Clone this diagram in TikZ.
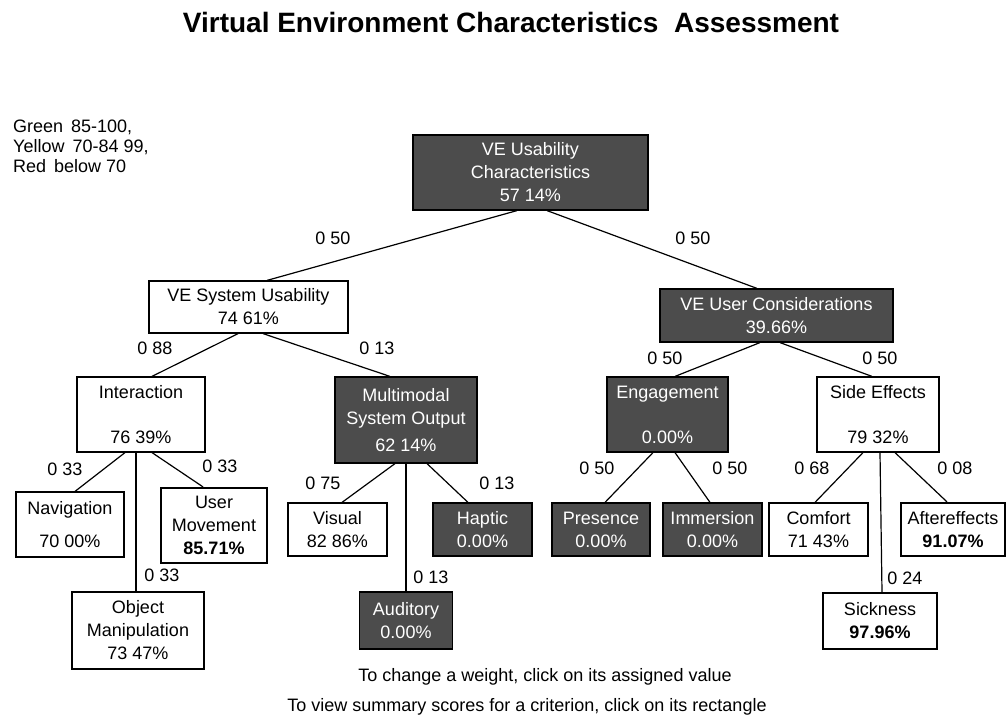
\documentclass[tikz,border=0pt]{standalone}
\usepackage{fontspec}
\setmainfont{Liberation Sans}
\begin{document}
\begin{tikzpicture}[x=1pt,y=-1pt,font=\fontsize{18}{23}\selectfont,
  crit/.style={draw,line width=1.2pt,align=center,inner sep=0pt},
  yelbox/.style={crit,fill=white},
  redbox/.style={crit,fill=black!70,text=white},
  grnbox/.style={crit,fill=white,line width=2.2pt},
  wt/.style={inner sep=1pt}]
 \useasboundingbox (0,0) rectangle (1007,719);
 \node[font=\fontsize{28}{32}\selectfont\bfseries,anchor=base] (title) at (511,33) {Virtual Environment Characteristics\ \ Assessment};
 \node[anchor=north west,align=left,inner sep=0pt,font=\fontsize{18}{20}\selectfont] (key) at (13,120) {Green\ \,85-100,\\Yellow\ \,70-84 99,\\Red\ \,below 70};
 % criteria tree
 \node[redbox,minimum width=235pt,minimum height=75pt] (root) at (530.5,172.5) {VE Usability\\Characteristics\\57 14\%};
 \node[yelbox,minimum width=199pt,minimum height=52pt] (sys) at (248.5,307) {VE System Usability\\74 61\%};
 \node[redbox,minimum width=233pt,minimum height=53pt] (user) at (776.5,315.5) {VE User Considerations\\39.66\%};
 \node[yelbox,minimum width=128pt,minimum height=75pt] (inter) at (141,414.5) {Interaction\\[22pt]76 39\%};
 \node[redbox,minimum width=142pt,minimum height=86pt] (multi) at (406,420) {Multimodal\\System Output\\[4pt]62 14\%};
 \node[redbox,minimum width=121pt,minimum height=75pt] (engage) at (667.5,414.5) {Engagement\\[22pt]0.00\%};
 \node[yelbox,minimum width=122pt,minimum height=75pt] (side) at (878,414.5) {Side Effects\\[22pt]79 32\%};
 \node[yelbox,minimum width=108pt,minimum height=65pt] (nav) at (70,524.5) {Navigation\\[10pt]70 00\%};
 \node[grnbox,minimum width=106pt,minimum height=75pt] (move) at (214,525.5) {User\\Movement\\\textbf{85.71\%}};
 \node[yelbox,minimum width=132pt,minimum height=77pt] (object) at (138,630.5) {Object\\Manipulation\\73 47\%};
 \node[yelbox,minimum width=99pt,minimum height=53pt] (visual) at (337.5,529.5) {Visual\\82 86\%};
 \node[redbox,minimum width=99pt,minimum height=53pt] (haptic) at (482.5,529.5) {Haptic\\0.00\%};
 \node[redbox,minimum width=93pt,minimum height=57pt] (audit) at (406,620.5) {Auditory\\0.00\%};
 \node[redbox,minimum width=98pt,minimum height=53pt] (pres) at (601,529.5) {Presence\\0.00\%};
 \node[redbox,minimum width=99pt,minimum height=53pt] (immer) at (712.5,529.5) {Immersion\\0.00\%};
 \node[yelbox,minimum width=99pt,minimum height=53pt] (comfort) at (818.5,529.5) {Comfort\\71 43\%};
 \node[grnbox,minimum width=114pt,minimum height=56pt] (sick) at (880,621) {Sickness\\\textbf{97.96\%}};
 \node[grnbox,minimum width=104pt,minimum height=53pt] (after) at (953,529.5) {Aftereffects\\\textbf{91.07\%}};
 \foreach \a/\i/\b/\j in {root/-13.5/sys/18.5, root/16.5/user/-19.5, sys/-10.5/inter/11, sys/14.5/multi/-16,
   user/-16.5/engage/7.5, user/3.5/side/-6, inter/-16/nav/5, inter/-5/object/-2, inter/11/move/-11,
   multi/-11/visual/4.5, multi/0/audit/0, multi/21/haptic/-14.5, engage/-14.5/pres/4, engage/7.5/immer/-2.5,
   side/-15/comfort/-3.5, side/2/sick/2, side/17/after/-6}
  \draw[line width=1.2pt] ([xshift=\i pt]\a.south) -- ([xshift=\j pt]\b.north);
 % weights
 \foreach \n/\x/\y/\w in {w1/333/238/0 50, w2/693/238/0 50, w3/155/348/0 88, w4/377/348/0 13,
   w5/665/358/0 50, w6/880/358/0 50, w7/65/469/0 33, w8/220/466/0 33, w9/162/575/0 33,
   w10/323/483/0 75, w11/497/483/0 13, w12/431/577/0 13, w13/597/468/0 50, w14/730/468/0 50,
   w15/812/468/0 68, w16/955/468/0 08, w17/905/578/0 24}
  \node[wt] (\n) at (\x,\y) {\w};
 \node (hint1) at (545,677) {To change a weight, click on its assigned value};
 \node (hint2) at (527,707) {To view summary scores for a criterion, click on its rectangle};
\end{tikzpicture}
\end{document}
